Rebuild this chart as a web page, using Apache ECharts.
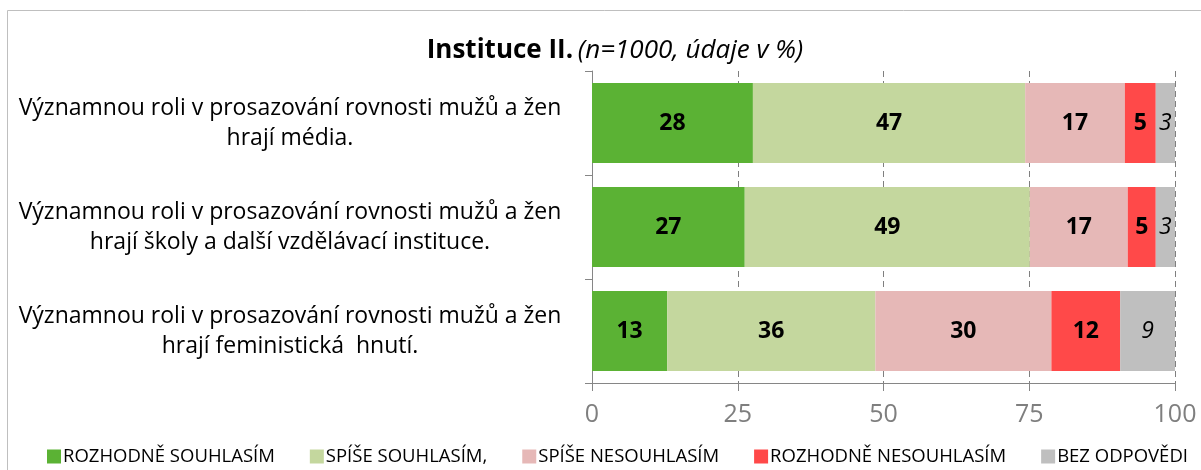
<!DOCTYPE html>
<html>
<head>
    <meta charset="utf-8">
    <title>Instituce II.</title>
    <script src="https://cdn.jsdelivr.net/npm/echarts@6/dist/echarts.min.js"></script>
    <style>
        html, body { margin: 0; padding: 0; background: #fff; }
        #chart1 { width: 1201px; height: 470px; }
    </style>
</head>
<body>
<div id="chart1"></div>
<script>
    // kategorie (shora dolu)
    var categories = [
        'Významnou roli v prosazování rovnosti mužů a žen\nhrají média.',
        'Významnou roli v prosazování rovnosti mužů a žen\nhrají školy a další vzdělávací instituce.',
        'Významnou roli v prosazování rovnosti mužů a žen\nhrají feministická  hnutí.'
    ];
    var seriesNames = ['ROZHODNĚ SOUHLASÍM', 'SPÍŠE SOUHLASÍM,', 'SPÍŠE NESOUHLASÍM', 'ROZHODNĚ NESOUHLASÍM', 'BEZ ODPOVĚDI'];
    var colors = ['#5bb234', '#c4d79e', '#e6b8b7', '#ff4949', '#bfbfbf'];

    // delky useku
    var rozhodneSouhlasim = [27.6, 26.2, 12.9];
    var spiseSouhlasim = [46.7, 48.9, 35.7];
    var spiseNesouhlasim = [17.1, 16.8, 30.2];
    var rozhodneNesouhlasim = [5.3, 4.8, 11.8];
    var bezOdpovedi = [3.3, 3.3, 9.4];

    // popisky tak, jak jsou v grafu
    var lblRozhodneSouhlasim = [28, 27, 13];
    var lblSpiseSouhlasim = [47, 49, 36];
    var lblSpiseNesouhlasim = [17, 17, 30];
    var lblRozhodneNesouhlasim = [5, 5, 12];
    var lblBezOdpovedi = [3, 3, 9];

    var xTicks = [0, 25, 50, 75, 100];

    var values = [rozhodneSouhlasim, spiseSouhlasim, spiseNesouhlasim, rozhodneNesouhlasim, bezOdpovedi];
    var labels = [lblRozhodneSouhlasim, lblSpiseSouhlasim, lblSpiseNesouhlasim, lblRozhodneNesouhlasim, lblBezOdpovedi];

    var font = '"Open Sans", Lato, sans-serif';

    var series = seriesNames.map(function (name, i) {
        var last = (i === 4);
        return {
            name: name,
            type: 'bar',
            stack: 'total',
            barWidth: 80,
            itemStyle: { color: colors[i] },
            label: {
                show: true,
                position: 'inside',
                color: '#000',
                fontFamily: font,
                fontSize: 23,
                fontWeight: last ? 'normal' : 'bold',
                fontStyle: last ? 'italic' : 'normal',
                formatter: function (p) { return labels[i][p.dataIndex]; }
            },
            data: values[i]
        };
    });

    var myChart1 = echarts.init(document.getElementById('chart1'));
    myChart1.setOption({
        animation: false,
        textStyle: { fontFamily: font },
        title: {
            text: '{b|Instituce II.} {i|(n=1000, údaje v %)}',
            left: 610,
            textAlign: 'center',
            top: 33,
            textStyle: {
                fontWeight: 'normal',
                rich: {
                    b: { fontFamily: font, fontSize: 26, fontWeight: 'bold', color: '#000' },
                    i: { fontFamily: font, fontSize: 26, fontWeight: 'normal', fontStyle: 'italic', color: '#000' }
                }
            }
        },
        graphic: [{
            type: 'rect',
            shape: { x: 7.5, y: 10.5, width: 1210, height: 480 },
            style: { fill: 'none', stroke: '#bfbfbf', lineWidth: 1 },
            silent: true
        }],
        legend: {
            bottom: -1,
            left: 42,
            itemWidth: 14,
            itemHeight: 14,
            itemGap: 35,
            icon: 'rect',
            textStyle: { fontFamily: font, fontSize: 18.5, color: '#000', padding: [0, 0, 0, -3] },
            data: seriesNames
        },
        grid: { left: 592, right: 26, top: 71, bottom: 87 },
        xAxis: {
            type: 'value',
            min: 0,
            max: 100,
            interval: 25,
            axisLine: { show: true, lineStyle: { color: '#868686' } },
            axisTick: { show: true, length: 8, lineStyle: { color: '#868686' } },
            axisLabel: { color: '#7f7f7f', fontSize: 25, margin: 19, fontFamily: font,
                formatter: function (v) { return xTicks.indexOf(v) >= 0 ? v : ''; } },
            splitLine: { show: true, lineStyle: { color: '#7f7f7f', type: [6, 4] } }
        },
        yAxis: {
            type: 'category',
            inverse: true,
            data: categories,
            axisLine: { show: true, lineStyle: { color: '#868686' } },
            axisTick: { show: true, length: 7, lineStyle: { color: '#868686' } },
            axisLabel: {
                color: '#000',
                fontFamily: font,
                fontSize: 23,
                align: 'center',
                margin: 302,
                lineHeight: 30
            }
        },
        series: series
    });
</script>
</body>
</html>
